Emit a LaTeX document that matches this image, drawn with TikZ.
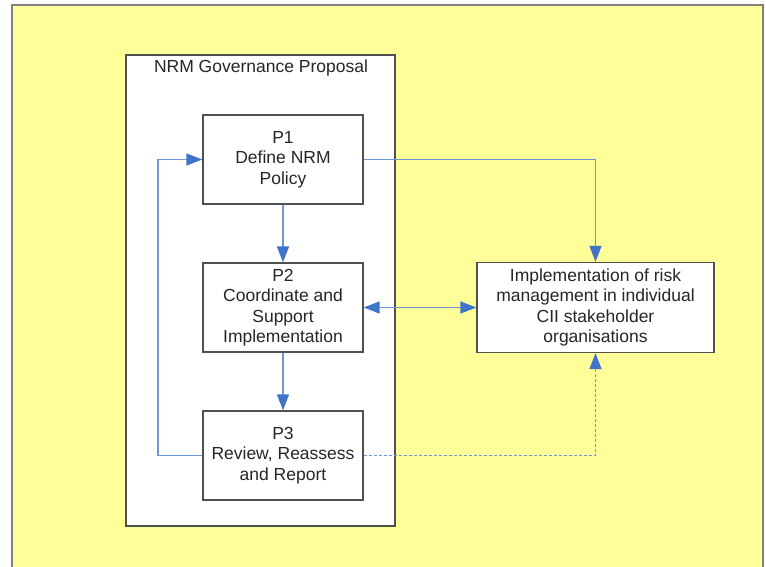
\documentclass[tikz,border=0pt]{standalone}
\usepackage{fontspec}
\setmainfont{Liberation Sans}
\usetikzlibrary{arrows.meta}
\definecolor{bgyellow}{HTML}{FFFF99}
\definecolor{arrowblue}{HTML}{3F74C8}
\definecolor{lineblue}{HTML}{6D98D6}
\definecolor{boxgray}{HTML}{505050}
\begin{document}
\begin{tikzpicture}[x=1pt,y=-1pt,
 >={Triangle[length=16pt,width=12pt,color=arrowblue,fill=arrowblue]},
 txt/.style={font=\fontsize{17.5}{20.5}\selectfont, text=black!85},
 proc/.style={txt, draw=boxgray, line width=1.3pt, fill=white, minimum width=160pt, minimum height=89pt, align=center, inner sep=0pt},
 conn/.style={draw=lineblue, fill=none, line width=1.4pt},
 dashedconn/.style={conn, dash pattern=on 3pt off 2pt},
]
\useasboundingbox (0,0) rectangle (766,567);
\fill[bgyellow] (12,5) rectangle (763,567);
\draw[gray, line width=2pt] (12,567) -- (12,5) -- (763,5) -- (763,567);
\node[draw=boxgray, line width=1.3pt, fill=white, minimum width=269pt, minimum height=471pt, inner sep=0pt] (gov) at (260.5,290.5) {};
\node[txt] (title) at (261,68) {NRM Governance Proposal};
\node[proc] (p1) at (283,159.5) {P1\\Define NRM\\Policy};
\node[proc] (p2) at (283,307.5) {P2\\Coordinate and\\Support\\Implementation};
\node[proc] (p3) at (283,455.5) {P3\\Review, Reassess\\and Report};
\node[proc, minimum width=237pt, minimum height=90pt] (impl) at (595.5,307.5) {Implementation of risk\\management in individual\\CII stakeholder\\organisations};
\coordinate (loop) at (158,455.5);
\draw[conn,->] (p1) -- (p2);
\draw[conn,->] (p2) -- (p3);
\draw[conn,<->] (p2.east) -- (impl.west);
\draw[conn,->] (p1.east) -| (impl.north);
\draw[dashedconn,->] (p3.east) -| (impl.south);
\draw[conn,->] (p3.west) -- (loop) |- (p1.west);
\end{tikzpicture}
\end{document}
